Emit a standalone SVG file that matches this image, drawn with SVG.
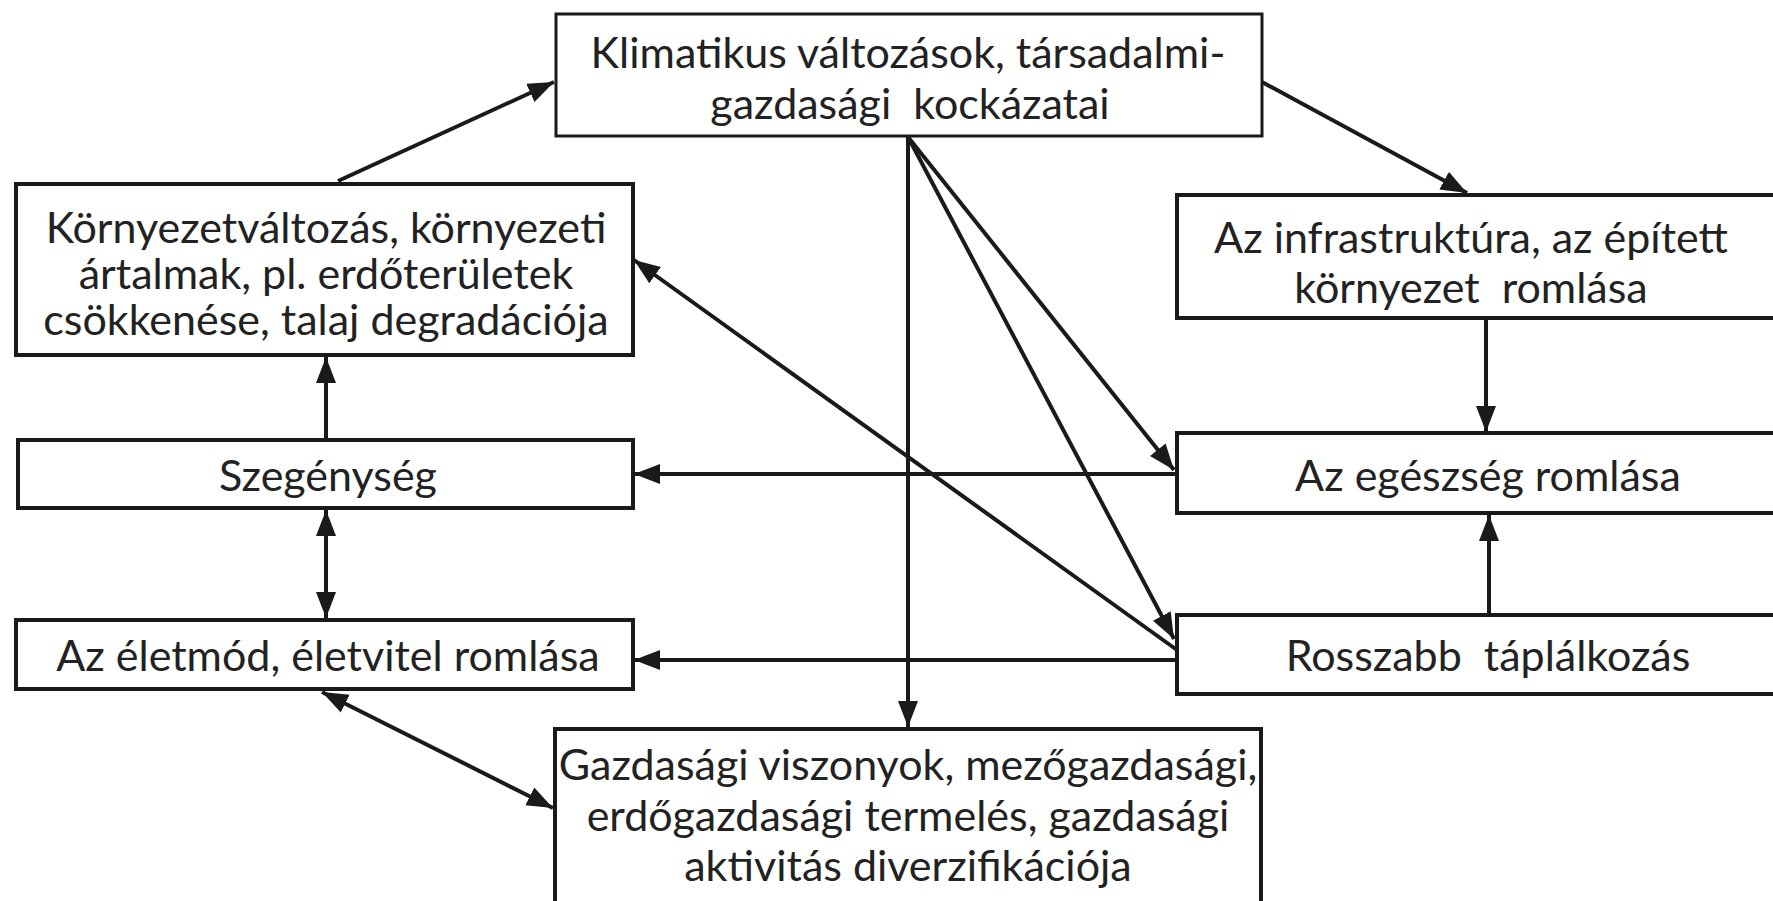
<svg xmlns="http://www.w3.org/2000/svg" width="1773" height="901" viewBox="0 0 1773 901">
<defs>
<style>
.box{fill:#fff;stroke:#1a1a1a;stroke-width:4}
.t{font-family:Lato,"Liberation Sans",sans-serif;font-size:43px;fill:#222;text-anchor:middle}
.c{fill:none;stroke:#1a1a1a;stroke-width:4}
.a{marker-end:url(#ah)}
.d{marker-start:url(#ah);marker-end:url(#ah)}
</style>
<marker id="ah" markerUnits="userSpaceOnUse" markerWidth="28" markerHeight="22" refX="26" refY="11" orient="auto-start-reverse" viewBox="0 0 28 22">
<path d="M0,1 L26,11 L0,21 z" fill="#1a1a1a"/>
</marker>
</defs>
<rect width="1773" height="901" fill="#fff"/>
<g id="connectors">
<line class="c a" x1="338" y1="181" x2="554" y2="82"/>
<line class="c a" x1="1262" y1="82" x2="1467" y2="193"/>
<line class="c a" x1="908" y1="137" x2="908" y2="727"/>
<line class="c a" x1="908" y1="137" x2="1174" y2="470"/>
<line class="c a" x1="908" y1="137" x2="1174" y2="639"/>
<line class="c a" x1="1177" y1="650" x2="634" y2="260"/>
<line class="c a" x1="1177" y1="474" x2="634" y2="474"/>
<line class="c a" x1="1177" y1="660" x2="634" y2="660"/>
<line class="c a" x1="1486" y1="318" x2="1486" y2="432"/>
<line class="c a" x1="1489" y1="616" x2="1489" y2="515"/>
<line class="c a" x1="326" y1="440" x2="326" y2="357"/>
<line class="c d" x1="326" y1="510" x2="326" y2="618"/>
<line class="c d" x1="322" y1="692" x2="553" y2="808"/>
</g>
<g id="n-klima">
<rect class="box" x="556" y="14" width="706" height="122" style="stroke-width:3"/>
<text class="t" x="908" y="68">Klimatikus változások, társadalmi-</text>
<text class="t" x="910" y="119">gazdasági&#160; kockázatai</text>
</g>
<g id="n-kornyezet">
<rect class="box" x="16" y="184" width="617" height="171"/>
<text class="t" x="326" y="243">Környezetváltozás, környezeti</text>
<text class="t" x="326" y="289">ártalmak, pl. erdőterületek</text>
<text class="t" x="326" y="335">csökkenése, talaj degradációja</text>
</g>
<g id="n-szegenyseg">
<rect class="box" x="18" y="440" width="615" height="68"/>
<text class="t" x="328" y="491">Szegénység</text>
</g>
<g id="n-eletmod">
<rect class="box" x="16" y="620" width="617" height="69"/>
<text class="t" x="328" y="671">Az életmód, életvitel romlása</text>
</g>
<g id="n-gazdasagi">
<rect class="box" x="555" y="729" width="706" height="190"/>
<text class="t" x="908" y="780">Gazdasági viszonyok, mezőgazdasági,</text>
<text class="t" x="908" y="831">erdőgazdasági termelés, gazdasági</text>
<text class="t" x="908" y="881">aktivitás diverzifikációja</text>
</g>
<g id="n-infra">
<rect class="box" x="1177" y="195" width="620" height="123"/>
<text class="t" x="1471" y="253">Az infrastruktúra, az épített</text>
<text class="t" x="1471" y="303">környezet&#160; romlása</text>
</g>
<g id="n-egeszseg">
<rect class="box" x="1177" y="433" width="620" height="80"/>
<text class="t" x="1488" y="491">Az egészség romlása</text>
</g>
<g id="n-rosszabb">
<rect class="box" x="1177" y="615" width="620" height="79"/>
<text class="t" x="1488" y="671">Rosszabb&#160; táplálkozás</text>
</g>
</svg>
